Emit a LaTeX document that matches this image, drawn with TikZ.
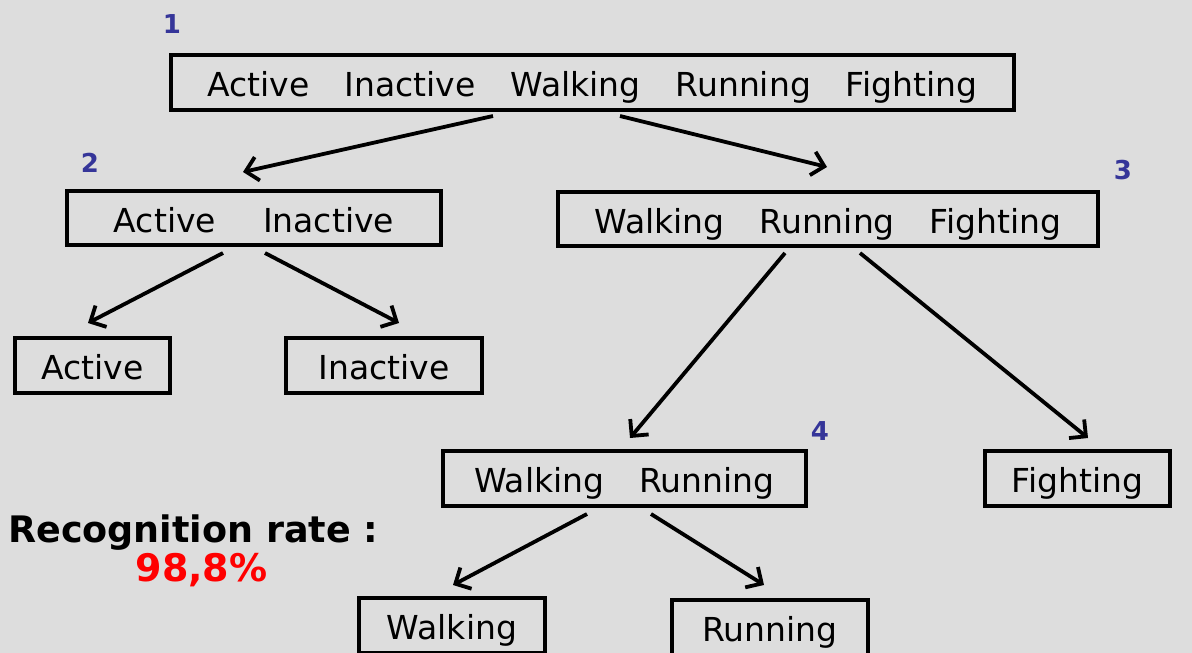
\documentclass[tikz,border=0pt]{standalone}
\usepackage{fontspec}
\setmainfont{DejaVu Sans}
\usetikzlibrary{arrows.meta}
\definecolor{bg}{HTML}{DDDDDD}
\definecolor{numblue}{HTML}{353599}
\definecolor{rred}{HTML}{FF0000}
\newcommand{\wg}{\hspace{35pt}}
\begin{document}
\begin{tikzpicture}[x=1pt,y=-1pt,
  box/.style={draw=black,line width=4pt,inner sep=0pt,anchor=center,
    minimum height=54.5pt,font=\fontsize{33}{40}\selectfont,
    text height=28pt,text depth=0pt},
  num/.style={font=\bfseries\fontsize{26}{31}\selectfont,text=numblue,inner sep=0pt,anchor=center},
  arr/.style={line width=3.8pt,-{Straight Barb[length=12pt,width=24pt]}},
  big/.style={font=\bfseries\fontsize{36.5}{43}\selectfont,inner sep=0pt}]
\fill[bg] (0,0) rectangle (1192,653);
\useasboundingbox (0,0) rectangle (1192,653);
\clip (0,0) rectangle (1192,653);

\node[box,minimum width=843pt] (b1) at (592.5,82.5) {Active\wg Inactive\wg Walking\wg Running\wg Fighting};
\node[box,minimum width=374pt] (b2) at (254,218) {Active\hspace{47pt}Inactive};
\node[box,minimum width=540pt] (b3) at (828,219) {Walking\wg Running\wg Fighting};
\node[box,minimum width=155pt] (bA) at (92.5,365.5) {Active};
\node[box,minimum width=196pt] (bI) at (384,365.5) {Inactive};
\node[box,minimum width=363pt] (b4) at (624.5,478.5) {Walking\wg Running};
\node[box,minimum width=185pt] (bF) at (1077.5,478.5) {Fighting};
\node[box,minimum width=186pt] (bW) at (452,625.5) {Walking};
\node[box,minimum width=196pt] (bR) at (770,627.5) {Running};

\node[num] (n1) at (172,24) {1};
\node[num] (n2) at (90,163) {2};
\node[num] (n3) at (1123,170) {3};
\node[num] (n4) at (820,431) {4};

\node[big,anchor=base west] (rr) at (8,542) {Recognition rate :};
\node[big,anchor=base,text=rred,font=\bfseries\fontsize{38}{45}\selectfont] (rv) at (201.5,581) {98,8\%};

\coordinate (s12) at (493,116); \coordinate (e12) at (243,172);
\coordinate (s13) at (620,116); \coordinate (e13) at (827,167);
\coordinate (s2A) at (223,253); \coordinate (e2A) at (88,323);
\coordinate (s2I) at (265,253); \coordinate (e2I) at (399,323);
\coordinate (s34) at (785,253); \coordinate (e34) at (630,438);
\coordinate (s3F) at (860,253); \coordinate (e3F) at (1088,438);
\coordinate (s4W) at (587,514); \coordinate (e4W) at (453,585);
\coordinate (s4R) at (651,514); \coordinate (e4R) at (764,585);

\draw[arr] (s12) -- (e12);
\draw[arr] (s13) -- (e13);
\draw[arr] (s2A) -- (e2A);
\draw[arr] (s2I) -- (e2I);
\draw[arr] (s34) -- (e34);
\draw[arr] (s3F) -- (e3F);
\draw[arr] (s4W) -- (e4W);
\draw[arr] (s4R) -- (e4R);
\end{tikzpicture}
\end{document}
